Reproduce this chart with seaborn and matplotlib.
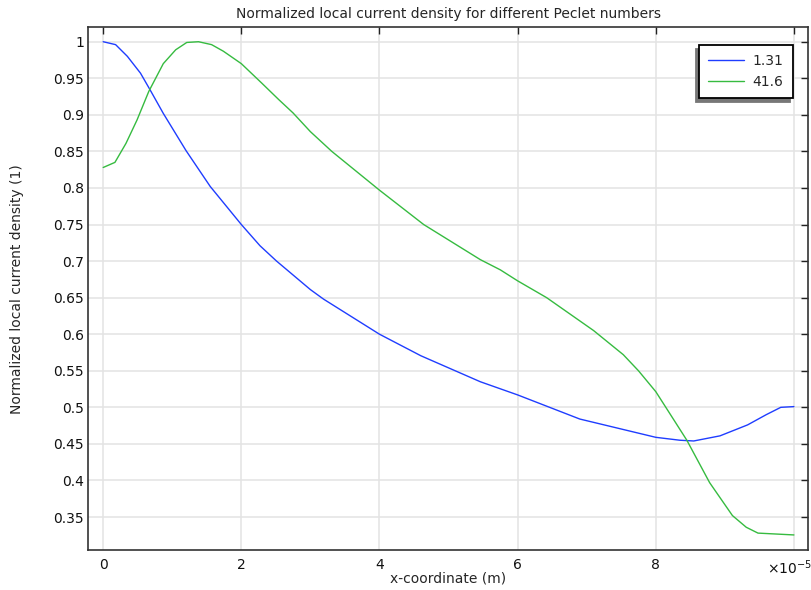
import numpy as np
import pandas as pd
import matplotlib
matplotlib.use("Agg")
import matplotlib.pyplot as plt
import matplotlib.transforms as mtransforms
import seaborn as sns

# ---- data (x in units of 1e-5 m) ----
x_131 = [0, 0.18, 0.35, 0.54, 0.68, 0.87, 1.2, 1.55, 2.0, 2.27, 2.51, 3.0, 3.19, 4.0,
         4.6, 5.46, 6.0, 6.9, 8.0, 8.35, 8.55, 8.93, 9.33, 9.6, 9.81, 10.0]
y_131 = [1.0, 0.996, 0.98, 0.957, 0.934, 0.902, 0.851, 0.802, 0.75, 0.721, 0.70, 0.661,
         0.648, 0.60, 0.5705, 0.535, 0.517, 0.484, 0.459, 0.455, 0.454, 0.461, 0.476,
         0.49, 0.50, 0.501]

x_416 = [0, 0.17, 0.33, 0.49, 0.66, 0.87, 1.05, 1.21, 1.38, 1.57, 1.74, 2.0, 2.3, 2.54,
         2.75, 3.0, 3.31, 4.0, 4.64, 5.46, 5.75, 6.0, 6.42, 7.1, 7.53, 7.75, 8.0, 8.2,
         8.45, 8.78, 9.11, 9.31, 9.48, 10.0]
y_416 = [0.828, 0.835, 0.861, 0.893, 0.932, 0.970, 0.989, 0.999, 1.0, 0.996, 0.987,
         0.970, 0.943, 0.921, 0.9025, 0.877, 0.85, 0.797, 0.75, 0.702, 0.688, 0.673,
         0.65, 0.605, 0.572, 0.55, 0.5215, 0.492, 0.455, 0.397, 0.352, 0.336, 0.328,
         0.3255]

series_names = ["1.31", "41.6"]
series_colors = ["#1f3dff", "#36bb40"]

x_ticks = [0, 2, 4, 6, 8, 10]
x_ticklabels = ["0", "2", "4", "6", "8", "×10$^{-5}$"]
y_ticks = [0.35, 0.4, 0.45, 0.5, 0.55, 0.6, 0.65, 0.7, 0.75, 0.8, 0.85, 0.9, 0.95, 1.0]
y_ticklabels = ["0.35", "0.4", "0.45", "0.5", "0.55", "0.6", "0.65", "0.7", "0.75",
                "0.8", "0.85", "0.9", "0.95", "1"]

df = pd.concat([
    pd.DataFrame({"x": x_131, "y": y_131, "Pe": series_names[0]}),
    pd.DataFrame({"x": x_416, "y": y_416, "Pe": series_names[1]}),
])

sns.set_style("white")
plt.rcParams["font.family"] = ["DejaVu Sans"]

fig = plt.figure(figsize=(8.11, 5.90), dpi=100)
ax = fig.add_axes([0.1085, 0.0678, 0.8883, 0.8859])

sns.lineplot(data=df, x="x", y="y", hue="Pe", palette=series_colors, sort=False,
             linewidth=1.0, ax=ax, legend=True)

ax.set_xlim(-0.22, 10.21)
ax.set_ylim(0.3049, 1.0197)
ax.set_xticks(x_ticks)
ax.set_xticklabels(x_ticklabels)
ax.set_yticks(y_ticks)
ax.set_yticklabels(y_ticklabels)

ax.grid(True, color="#e3e3e3", linewidth=1.1)
ax.set_axisbelow(True)
for sp in ax.spines.values():
    sp.set_color("#333333")
    sp.set_linewidth(1.2)
    sp.set_visible(True)

ax.tick_params(axis="both", which="both", direction="in", length=5, width=1.0,
               color="#222222", top=True, right=True, labelsize=10,
               labelcolor="#111111")
ax.tick_params(axis="x", pad=6)
ax.tick_params(axis="y", pad=3)

# shift the last x tick label (the exponent) slightly left so it fits
last = ax.get_xticklabels()[-1]
last.set_transform(last.get_transform() +
                   mtransforms.ScaledTranslation(-3 / 72, 0, fig.dpi_scale_trans))

ax.set_xlabel("x-coordinate (m)", fontsize=10)
ax.xaxis.set_label_coords(0.5, -0.042)
ax.set_ylabel("Normalized local current density (1)", fontsize=10)
ax.yaxis.set_label_coords(-0.0888, 0.5)
ax.set_title("Normalized local current density for different Peclet numbers",
             fontsize=10, pad=7)

handles, labels = ax.get_legend_handles_labels()
leg = ax.legend(handles, labels, loc="upper right", bbox_to_anchor=(0.978, 0.9657),
                borderaxespad=0, fancybox=False, frameon=True, fontsize=10,
                handlelength=2.6, borderpad=0.65, labelspacing=0.5, handletextpad=0.6,
                shadow={"ox": -2, "oy": -3, "facecolor": "#777777",
                        "edgecolor": "#777777", "alpha": 1})
leg.get_frame().set_edgecolor("black")
leg.get_frame().set_linewidth(1.3)
leg.get_frame().set_alpha(1)

fig.savefig("out.png", dpi=100)
